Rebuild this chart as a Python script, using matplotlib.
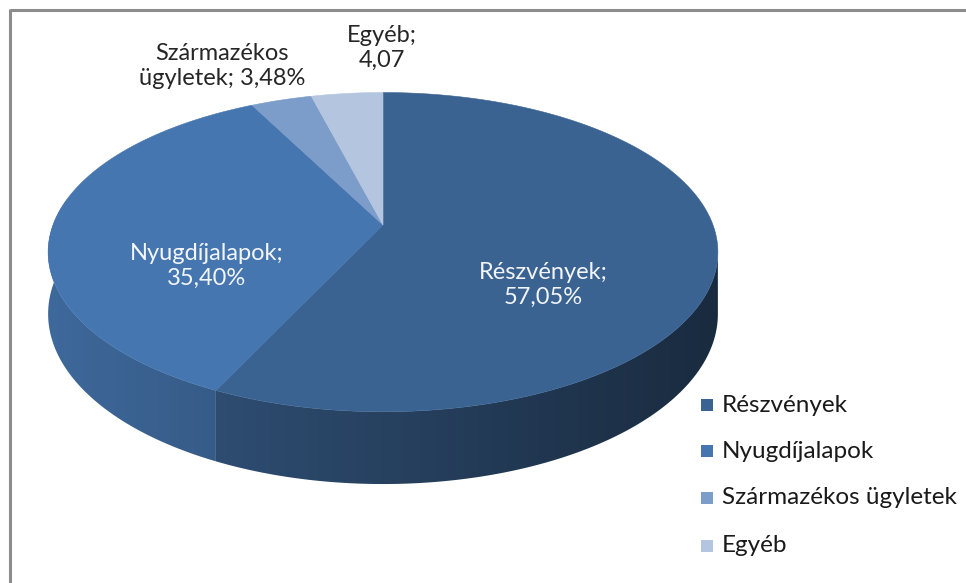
import numpy as np
import matplotlib
matplotlib.use('Agg')
import matplotlib.pyplot as plt
from matplotlib.patches import Polygon, Rectangle
from matplotlib.colors import to_rgb

categories = ['Részvények', 'Nyugdíjalapok', 'Származékos ügyletek', 'Egyéb']
values = [57.05, 35.40, 3.48, 4.07]
label_texts = ['Részvények;\n57,05%', 'Nyugdíjalapok;\n35,40%',
               'Származékos\nügyletek; 3,48%', 'Egyéb;\n4,07']
colors = ['#3b6392', '#4676af', '#7c9cca', '#b4c5df']

W, Hpx = 966, 583
fig = plt.figure(figsize=(W / 100, Hpx / 100), dpi=100)
ax = fig.add_axes([0, 0, 1, 1])
ax.set_xlim(0, W)
ax.set_ylim(Hpx, 0)
ax.axis('off')

CX, CY, RX, RY, P, DEPTH = 383, 225, 330, 155, 0.17, 60
FONT = ['Lato', 'DejaVu Sans']


def proj(theta, h=0.0):
    s = 1.0 / (1.0 + P * np.sin(theta))
    x = CX + RX * np.cos(theta) * s
    y = CY - RY * np.sin(theta) * s + h * s
    return x, y


# slice angle ranges (clockwise from 12 o'clock)
total = sum(values)
angles = []
start = np.pi / 2
for v in values:
    end = start - 2 * np.pi * v / total
    angles.append((start, end))
    start = end

tang = np.arcsin(P)
front_hi = -tang
front_lo = -np.pi - tang


def shade(x):
    return np.clip(0.88 - 0.00068 * (x - 60), 0.3, 1.0)


# side walls with smooth horizontal gradient
for (a, b), c in zip(angles, colors):
    hi = min(a, front_hi)
    lo = max(b, front_lo)
    if hi <= lo:
        continue
    base = np.array(to_rgb(c))
    th = np.linspace(hi, lo, 300)
    tx, ty = proj(th)
    bx, by = proj(th, DEPTH)
    pts = list(zip(tx, ty)) + list(zip(bx[::-1], by[::-1]))
    poly = Polygon(pts, closed=True, facecolor='none', edgecolor='none')
    ax.add_patch(poly)
    x0, x1 = min(tx.min(), bx.min()) - 2, max(tx.max(), bx.max()) + 2
    y0, y1 = min(ty.min(), by.min()) - 2, max(ty.max(), by.max()) + 2
    xs = np.linspace(x0, x1, 400)
    grad = np.clip(base[None, :] * shade(xs)[:, None], 0, 1)
    img = np.repeat(grad[None, :, :], 2, axis=0)
    im = ax.imshow(img, extent=[x0, x1, y1, y0], aspect='auto',
                   interpolation='bilinear', zorder=1)
    im.set_clip_path(poly)

# top faces
for (a, b), c in zip(angles, colors):
    th = np.linspace(a, b, 300)
    xs, ys = proj(th)
    pts = [[CX, CY]] + list(zip(xs, ys))
    ax.add_patch(Polygon(pts, closed=True, facecolor=c, edgecolor=c,
                         linewidth=0.4, zorder=2))

ax.set_xlim(0, W)
ax.set_ylim(Hpx, 0)

# data labels
label_pos = [(543, 285), (207, 266), (222, 66), (382, 48)]
label_col = ['#f2f5fa', '#f2f5fa', '#262626', '#262626']
for txt, (lx, ly), lc in zip(label_texts, label_pos, label_col):
    ax.text(lx, ly, txt, ha='center', va='center', fontsize=17,
            color=lc, family=FONT, linespacing=1.2, zorder=5)

# legend
leg_y = [405, 451, 498, 546]
for cat, c, yy in zip(categories, colors, leg_y):
    ax.add_patch(Rectangle((701, yy - 6), 12, 12, facecolor=c,
                           edgecolor='none', zorder=5))
    ax.text(722, yy, cat, ha='left', va='center', fontsize=17.5,
            color='#1a1a1a', family=FONT, zorder=5)

# chart border
ax.plot([9.5, W], [9.5, 9.5], color='#8c8c8c', lw=2.2,
        solid_capstyle='butt', zorder=6)
ax.plot([9.5, 9.5], [8.5, Hpx], color='#8c8c8c', lw=2.2,
        solid_capstyle='butt', zorder=6)

fig.savefig('out.png', dpi=100)
